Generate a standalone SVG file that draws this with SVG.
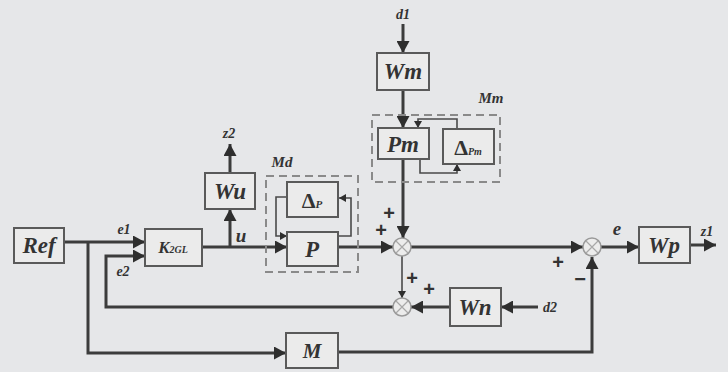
<svg xmlns="http://www.w3.org/2000/svg" width="728" height="372" viewBox="0 0 728 372">
<style>
.box{fill:#ebebeb;stroke:#5a5a5a;stroke-width:2}
.dash{fill:none;stroke:#8a8a8a;stroke-width:2;stroke-dasharray:8,5}
.ln{fill:none;stroke:#3c3c3c;stroke-width:3}
.thin{fill:none;stroke:#4a4a4a;stroke-width:1.6}
.sum{fill:#ececec;stroke:#9a9a9a;stroke-width:1.5}
.x{stroke:#a8a8a8;stroke-width:1.2}
.t{font-family:"Liberation Serif",serif;font-weight:bold;font-style:italic;fill:#333;text-anchor:middle}
.big{font-size:23px}
.lab{font-size:14px}
.pm{font-family:"Liberation Sans",sans-serif;font-weight:bold;font-size:20px;fill:#333;text-anchor:middle}
</style>
<defs>
<marker id="a" markerUnits="userSpaceOnUse" markerWidth="13" markerHeight="13" refX="12" refY="6.5" orient="auto"><path d="M0,0 L12,6.5 L0,13 z" fill="#2e2e2e"/></marker>
<marker id="s" markerUnits="userSpaceOnUse" markerWidth="8" markerHeight="8" refX="7" refY="4" orient="auto"><path d="M0,0 L7,4 L0,8 z" fill="#2e2e2e"/></marker>
</defs>
<rect width="728" height="372" fill="#e6e7e9"/>

<g id="connectors">
<path class="ln" d="M64,242 H145" marker-end="url(#a)"/>
<path class="ln" d="M88,242 V353 H286" marker-end="url(#a)"/>
<path class="ln" d="M338,352 H592 V257" marker-end="url(#a)"/>
<path class="ln" d="M202,247 H287" marker-end="url(#a)"/>
<path class="ln" d="M230,247 V209" marker-end="url(#a)"/>
<path class="ln" d="M230,173 V144" marker-end="url(#a)"/>
<path class="ln" d="M338,247 H393" marker-end="url(#a)"/>
<path class="ln" d="M403,158 V238" marker-end="url(#a)"/>
<path class="ln" d="M403,90 V128" marker-end="url(#a)"/>
<path class="ln" d="M403,24 V53" marker-end="url(#a)"/>
<path class="ln" d="M411,247 H583" marker-end="url(#a)"/>
<path class="ln" d="M601,247 H639" marker-end="url(#a)"/>
<path class="ln" d="M690,245 H716" marker-end="url(#a)"/>
<path class="thin" d="M402,256 V298" marker-end="url(#s)"/>
<path class="ln" d="M538,307 H501" marker-end="url(#a)"/>
<path class="ln" d="M450,307 H411" marker-end="url(#a)"/>
<path class="ln" d="M393,307 H106 V256 H145" marker-end="url(#a)"/>
<path class="thin" d="M287,197 H276 V236 H287" marker-end="url(#s)"/>
<path class="thin" d="M338,236 H351 V198 H339" marker-end="url(#s)"/>
<path class="thin" d="M457,129 V119 H418 V128" marker-end="url(#s)"/>
<path class="thin" d="M420,158 V173 H457 V164" marker-end="url(#s)"/>
</g>

<g id="Md"><rect class="dash" x="266" y="176" width="92" height="96"/><text class="t" x="282" y="167" font-size="15">Md</text></g>
<g id="Mm"><rect class="dash" x="372" y="115" width="128" height="67"/><text class="t" x="491" y="103" font-size="15">Mm</text></g>

<g id="Ref"><rect class="box" x="14" y="228" width="50" height="35"/><text class="t big" x="39" y="253">Ref</text></g>
<g id="K2GL"><rect class="box" x="145" y="229" width="57" height="37"/><text class="t" x="173" y="253" font-size="17">K<tspan font-size="10">2GL</tspan></text></g>
<g id="Wu"><rect class="box" x="205" y="173" width="50" height="36"/><text class="t big" x="230" y="199">Wu</text></g>
<g id="DeltaP"><rect class="box" x="287" y="182" width="51" height="35"/><text class="t" x="312" y="208"><tspan font-style="normal" font-size="22">Δ</tspan><tspan font-size="11">P</tspan></text></g>
<g id="P"><rect class="box" x="287" y="232" width="51" height="34"/><text class="t big" x="312" y="257">P</text></g>
<g id="Wm"><rect class="box" x="377" y="53" width="52" height="37"/><text class="t big" x="403" y="79">Wm</text></g>
<g id="Pm"><rect class="box" x="378" y="128" width="51" height="31"/><text class="t big" x="403" y="152">Pm</text></g>
<g id="DeltaPm"><rect class="box" x="443" y="129" width="51" height="35"/><text class="t" x="468" y="155"><tspan font-style="normal" font-size="22">Δ</tspan><tspan font-size="10">Pm</tspan></text></g>
<g id="Wn"><rect class="box" x="450" y="288" width="51" height="38"/><text class="t big" x="475" y="315">Wn</text></g>
<g id="Wp"><rect class="box" x="639" y="227" width="51" height="36"/><text class="t big" x="664" y="253">Wp</text></g>
<g id="M"><rect class="box" x="286" y="333" width="52" height="35"/><text class="t" x="312" y="358" font-size="21" font-weight="normal">M</text></g>

<g id="sum1"><circle class="sum" cx="402" cy="247" r="9"/><path class="x" d="M396,241 L408,253 M408,241 L396,253"/></g>
<g id="sum2"><circle class="sum" cx="402" cy="307" r="9"/><path class="x" d="M396,301 L408,313 M408,301 L396,313"/></g>
<g id="sum3"><circle class="sum" cx="592" cy="247" r="9"/><path class="x" d="M586,241 L598,253 M598,241 L586,253"/></g>

<g id="labels">
<text class="t lab" x="124" y="234">e1</text>
<text class="t lab" x="123" y="276">e2</text>
<text class="t" x="241" y="242" font-size="19">u</text>
<text class="t lab" x="229" y="138">z2</text>
<text class="t lab" x="403" y="19">d1</text>
<text class="t lab" x="550" y="312">d2</text>
<text class="t lab" x="707" y="236">z1</text>
<text class="t" x="617" y="235" font-size="19">e</text>
<text class="pm" x="389" y="220">+</text>
<text class="pm" x="381" y="237">+</text>
<text class="pm" x="412" y="285">+</text>
<text class="pm" x="429" y="296">+</text>
<text class="pm" x="558" y="269">+</text>
<text class="pm" x="580" y="286">−</text>
</g>
</svg>
